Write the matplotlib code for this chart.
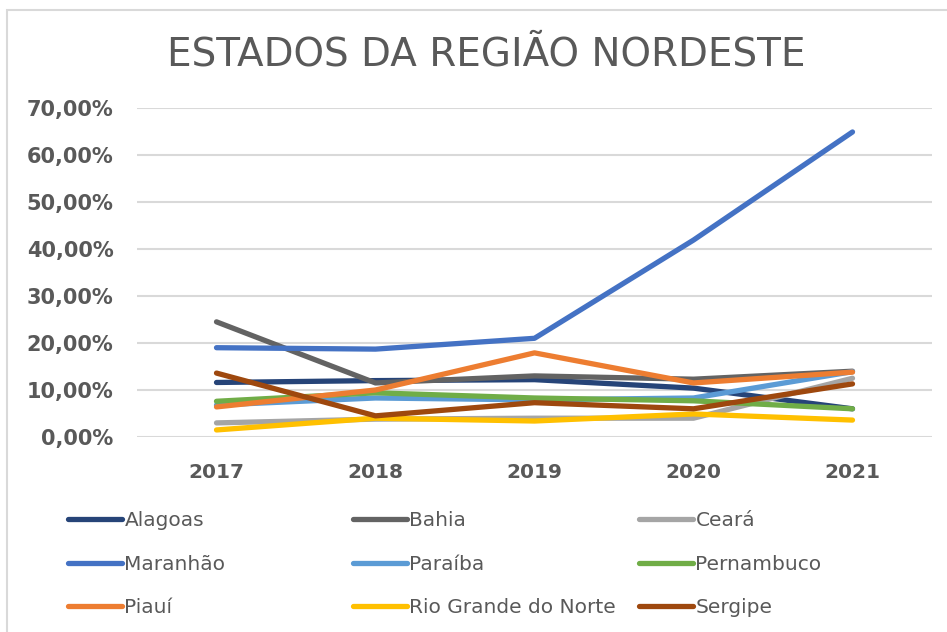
import matplotlib
matplotlib.use("Agg")
import matplotlib.pyplot as plt
from matplotlib.patches import Rectangle

years = ["2017", "2018", "2019", "2020", "2021"]

alagoas = [0.116, 0.120, 0.122, 0.104, 0.060]
bahia = [0.245, 0.115, 0.130, 0.123, 0.140]
ceara = [0.030, 0.038, 0.040, 0.040, 0.125]
maranhao = [0.190, 0.187, 0.210, 0.419, 0.649]
paraiba = [0.068, 0.083, 0.079, 0.083, 0.139]
pernambuco = [0.076, 0.094, 0.083, 0.077, 0.060]
piaui = [0.064, 0.100, 0.179, 0.115, 0.138]
rio_grande_norte = [0.015, 0.040, 0.034, 0.049, 0.036]
sergipe = [0.136, 0.045, 0.073, 0.060, 0.113]

series = [
    ("Alagoas", alagoas, "#264478"),
    ("Bahia", bahia, "#636363"),
    ("Ceará", ceara, "#A5A5A5"),
    ("Maranhão", maranhao, "#4472C4"),
    ("Paraíba", paraiba, "#5B9BD5"),
    ("Pernambuco", pernambuco, "#70AD47"),
    ("Piauí", piaui, "#ED7D31"),
    ("Rio Grande do Norte", rio_grande_norte, "#FFC000"),
    ("Sergipe", sergipe, "#9E480E"),
]

txt = "#595959"
plt.rcParams['font.family'] = ['DejaVu Sans']

fig = plt.figure(figsize=(9.47, 6.32), dpi=100)
W, H = 947, 632
ax = fig.add_axes([137 / W, 195 / H, (932 - 137) / W, (524 - 195) / H])

x = list(range(len(years)))
handles = []
for name, vals, col in series:
    h, = ax.plot(x, vals, color=col, lw=3.8, solid_capstyle="round",
                 solid_joinstyle="round", label=name)
    handles.append(h)

ax.set_xlim(-0.5, 4.5)
ax.set_ylim(0, 0.7)
yt = [i / 10 for i in range(8)]
ax.set_yticks(yt)
ax.set_yticklabels(["%d,00%%" % (i * 10) for i in range(8)])
ax.set_xticks(x)
ax.set_xticklabels(years)
ax.grid(axis="y", color="#D9D9D9", lw=1.5)
ax.set_axisbelow(True)
for s in ax.spines.values():
    s.set_visible(False)
ax.tick_params(length=0)
ax.tick_params(axis="y", pad=17, labelsize=15, labelcolor=txt)
ax.tick_params(axis="x", pad=19, labelsize=14.5, labelcolor=txt)
for t in ax.get_yticklabels() + ax.get_xticklabels():
    t.set_fontweight("semibold")

fig.text(486 / W, 1 - 54 / H, "ESTADOS DA REGIÃO NORDESTE", ha="center",
         va="center", fontsize=28, color=txt)

# chart border
fig.patches.append(Rectangle((7 / W, -0.1), 1.1, 1 - 10 / H + 0.1,
                             transform=fig.transFigure, fill=False,
                             ec="#D9D9D9", lw=1.5))

# legend in three equal columns
cols_x = [68, 353, 639]
for c in range(3):
    hs = [handles[r * 3 + c] for r in range(3)]
    fig.legend(handles=hs, labels=[h.get_label() for h in hs],
               loc="upper left", bbox_to_anchor=(cols_x[c] / W, 1 - 511 / H),
               frameon=False, fontsize=14.5, labelcolor=txt, handlelength=2.7,
               handletextpad=0.1, labelspacing=1.22, borderaxespad=0,
               borderpad=0)

fig.savefig("out.png", dpi=100)
